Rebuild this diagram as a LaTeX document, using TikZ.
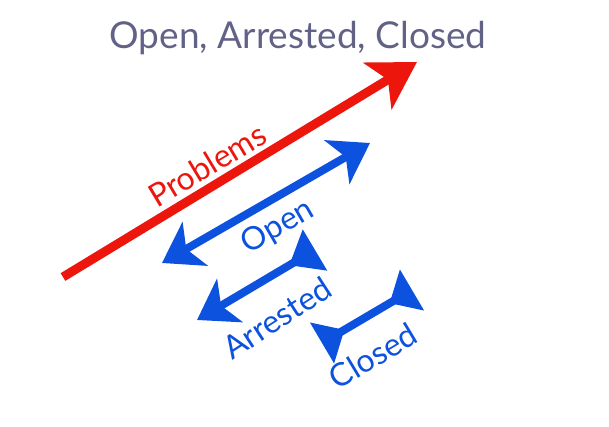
\documentclass[tikz,border=0pt]{standalone}
\usepackage{fontspec}
\setmainfont{Lato}
\usetikzlibrary{arrows.meta}
\definecolor{titlecol}{RGB}{98,98,135}
\definecolor{redcol}{RGB}{236,22,12}
\definecolor{bluecol}{RGB}{12,82,222}
\begin{document}
\begin{tikzpicture}[x=1pt,y=-1pt,
  redline/.style={draw=redcol,line width=9pt,-{Stealth[length=46pt,width=54pt,inset=12pt]}},
  openline/.style={draw=bluecol,line width=8pt,{Stealth[length=38pt,width=50pt,inset=10pt]}-{Stealth[length=38pt,width=50pt,inset=10pt]}},
  arrline/.style={draw=bluecol,line width=8pt,{Stealth[length=38pt,width=50pt,inset=10pt]}-{Triangle[reversed,length=30pt,width=46pt]}},
  closedline/.style={draw=bluecol,line width=8pt,{Triangle[reversed,length=26pt,width=46pt]}-{Triangle[reversed,length=26pt,width=46pt]}},
  lbl/.style={font=\fontsize{32}{36}\selectfont,inner sep=0pt}]
\useasboundingbox (0,0) rectangle (609,427);
\node[font=\fontsize{37}{42}\selectfont,text=titlecol] (title) at (298,38) {Open, Arrested, Closed};
\coordinate (rs) at (63,277);
\coordinate (re) at (417,62);
\coordinate (os) at (162,263);
\coordinate (oe) at (370,143);
\coordinate (as) at (197,320);
\coordinate (ae) at (315,250);
\coordinate (cs) at (322,343);
\coordinate (ce) at (412,290);
\draw[redline] (rs) -- (re);
\draw[openline] (os) -- (oe);
\draw[arrline] (as) -- (ae);
\draw[closedline] (cs) -- (ce);
\node[lbl,text=redcol,rotate=31] (prob) at (207,165) {Problems};
\node[lbl,text=bluecol,rotate=30] (open) at (278,227) {Open};
\node[lbl,text=bluecol,rotate=33] (arr) at (277,318) {Arrested};
\node[lbl,text=bluecol,rotate=31] (clo) at (373,356) {Closed};
\end{tikzpicture}
\end{document}
